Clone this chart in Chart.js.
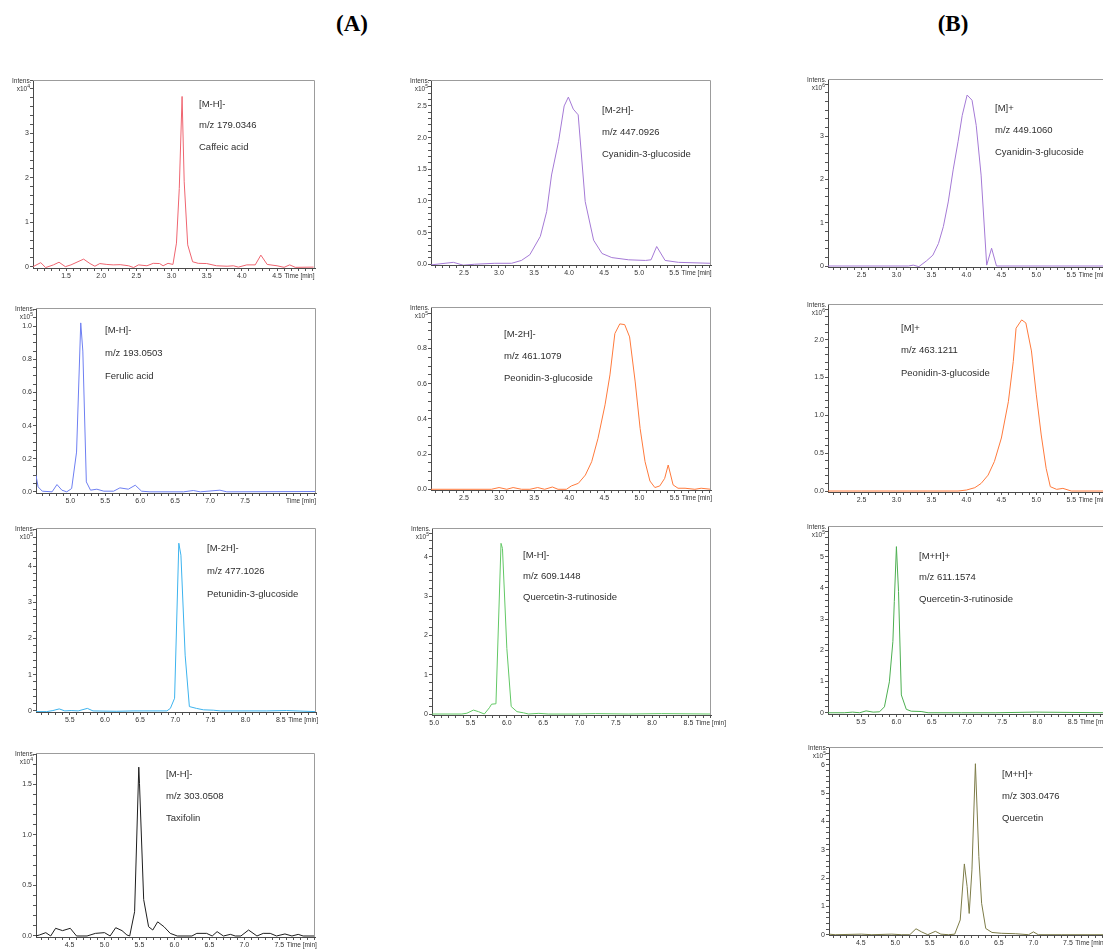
<!DOCTYPE html>
<html>
<head>
<meta charset="utf-8">
<script src="https://cdn.jsdelivr.net/npm/chart.js@4.4.1/dist/chart.umd.min.js"></script>
<style>
  html, body { margin: 0; padding: 0; background: #fff; }
  #page { position: relative; width: 1103px; height: 949px; overflow: hidden; background: #fff; }
  .title { position: absolute; top: 11px; width: 80px; text-align: center;
           font: bold 23px "Liberation Serif", "Times New Roman", serif; color: #000; }
  .panel { position: absolute; }
  .panel canvas { display: block; }
</style>
</head>
<body>
<div id="page">
  <div class="title" style="left:312px">(A)</div>
  <div class="title" style="left:913px">(B)</div>
</div>
<script>
// ---- Extracted ion chromatograms: retention time (min) and intensity (scaled by 10^exp) ----
const caffeicTime = [1.03,1.14,1.21,1.32,1.40,1.49,1.57,1.75,1.84,1.91,1.98,2.08,2.17,2.27,2.39,2.46,2.53,2.65,2.74,2.83,2.88,2.95,3.02,3.07,3.11,3.15,3.18,3.23,3.30,3.38,3.50,3.64,3.79,3.88,3.95,4.07,4.19,4.27,4.36,4.50,4.60,4.68,4.76,5.02];
const caffeicIntensity = [0,0.09,-0.02,0.04,0.10,0,0.04,0.17,0.07,0.01,0.07,0.05,0.04,0.045,0.02,-0.02,0.04,0.02,0.075,0.07,0.02,0.075,0.05,0.53,1.76,3.83,1.91,0.49,0.11,0.075,0.07,0.02,0.01,0.02,-0.01,0.04,0.04,0.26,0.05,0.02,-0.015,0.04,-0.015,-0.01];

const cyanidinNegTime = [2.03,2.35,2.49,2.65,2.94,3.18,3.32,3.44,3.59,3.68,3.75,3.85,3.93,3.99,4.06,4.13,4.23,4.35,4.47,4.61,4.85,5.09,5.17,5.25,5.37,5.56,6.02];
const cyanidinNegIntensity = [-0.01,0.03,-0.015,0,0.015,0.015,0.06,0.15,0.44,0.83,1.41,1.94,2.5,2.64,2.45,2.36,0.99,0.38,0.17,0.105,0.07,0.06,0.07,0.28,0.06,0.03,0.015];

const cyanidinPosTime = [2.02,3.17,3.24,3.32,3.43,3.52,3.60,3.67,3.74,3.81,3.88,3.94,4.01,4.08,4.14,4.21,4.29,4.36,4.43,6.02];
const cyanidinPosIntensity = [0,0,0.02,-0.015,0.12,0.25,0.52,0.91,1.48,2.22,2.87,3.48,3.95,3.83,3.25,2.1,0.02,0.41,0,0];

const ferulicTime = [4.51,4.54,4.60,4.74,4.81,4.88,4.95,5.02,5.09,5.15,5.18,5.23,5.29,5.38,5.48,5.62,5.71,5.83,5.93,6.02,6.14,6.62,6.76,6.86,7.14,7.24,8.51];
const ferulicIntensity = [0.10,0.03,0.004,0,0.044,0.01,0,0.02,0.24,1.02,0.85,0.06,0.01,0.016,0.004,0.004,0.024,0.016,0.04,0.004,0,0,0.008,0,0.01,0,0.002];

const peonidinNegTime = [2.03,2.89,3.0,3.11,3.2,3.32,3.44,3.55,3.65,3.76,3.84,3.96,4.03,4.13,4.23,4.32,4.41,4.51,4.58,4.65,4.72,4.79,4.86,4.94,5.01,5.08,5.15,5.22,5.29,5.36,5.41,5.48,5.55,5.65,5.79,5.88,6.02];
const peonidinNegIntensity = [0,0,0.01,0,0.01,0,0,0.01,0,0.013,0,0,0.019,0.034,0.081,0.157,0.29,0.48,0.65,0.885,0.94,0.936,0.866,0.61,0.346,0.157,0.047,0.01,0.019,0.062,0.138,0.025,0.006,0.006,0,0.006,0];

const peonidinPosTime = [2.02,2.5,2.98,3.45,3.88,4.0,4.12,4.21,4.31,4.4,4.5,4.6,4.67,4.71,4.79,4.85,4.93,5.0,5.07,5.14,5.2,5.29,5.38,5.5,6.02];
const peonidinPosIntensity = [0,0,0,0,0,0.013,0.044,0.1,0.21,0.39,0.7,1.18,1.71,2.15,2.26,2.22,1.85,1.27,0.74,0.3,0.057,0.022,0.035,0,0];

const petunidinTime = [5.02,5.17,5.26,5.35,5.43,5.52,5.62,5.75,5.83,6.16,6.4,6.88,6.93,6.99,7.05,7.08,7.14,7.2,7.3,7.4,7.54,7.64,8.3,8.58,9.0];
const petunidinIntensity = [-0.02,-0.02,0.01,0.055,0,0.01,0,0.07,0,-0.01,0,0,0.07,0.35,4.63,4.3,1.54,0.12,0.07,0.03,0.02,0,0,0.01,-0.02];

const rutinNegTime = [4.97,5.38,5.45,5.54,5.61,5.69,5.76,5.79,5.85,5.92,5.94,6.0,6.06,6.14,6.23,6.3,6.44,6.57,6.94,7.22,7.67,8.13,8.81];
const rutinNegIntensity = [0,0,0.02,0.1,0.06,0,0.16,0.25,0.26,4.34,4.21,1.67,0.19,0.06,0.03,0,0.017,0,0,0.01,0,0.01,0];

const rutinPosTime = [5.03,5.26,5.38,5.48,5.57,5.67,5.76,5.83,5.9,5.95,5.97,6.0,6.03,6.07,6.14,6.21,6.35,6.45,6.92,7.4,7.97,9.0];
const rutinPosIntensity = [0,0,0.02,0,0.06,0.02,0.03,0.19,0.99,2.28,3.56,5.32,3.88,0.57,0.11,0.05,0.04,0,0,0,0.02,0];

const taxifolinTime = [4.02,4.07,4.16,4.23,4.3,4.4,4.51,4.6,4.75,4.87,5.0,5.08,5.16,5.25,5.32,5.36,5.43,5.49,5.5,5.56,5.63,5.69,5.76,5.85,5.94,6.04,6.25,6.32,6.46,6.54,6.61,6.7,6.8,6.87,6.95,7.06,7.18,7.27,7.37,7.46,7.58,7.68,7.77,7.84,8.01];
const taxifolinIntensity = [0,0.01,0.033,0,0.076,0.053,0.076,0,0,0.026,0.033,0,0.082,0.053,0.01,0,0.24,1.67,1.51,0.36,0.092,0.059,0.14,0.092,0.026,0,0,0.026,0.026,0,0.043,0,0.016,0,0,0.059,0,0.026,0.026,0,0.02,0,0.016,0,0];

const quercetinTime = [4.04,4.13,4.51,4.66,4.95,5.09,5.21,5.3,5.38,5.47,5.58,5.66,5.77,5.86,5.94,6.0,6.04,6.07,6.11,6.16,6.21,6.25,6.31,6.4,6.54,6.74,6.93,7.0,7.07,7.41,8.08];
const quercetinIntensity = [0.02,0,0.02,0,0.02,0,0,0.21,0.1,0,0.12,0.02,0,0.02,0.52,2.5,1.7,0.75,2.29,6.04,2.76,1.11,0.22,0.08,0.05,0.035,0,0.1,0,0,0];

// ---- Tick labels ----
const caffeicXTicks = ['1.5','2.0','2.5','3.0','3.5','4.0','4.5'];
const anthocyaninXTicks = ['2.5','3.0','3.5','4.0','4.5','5.0','5.5'];
const ferulicXTicks = ['5.0','5.5','6.0','6.5','7.0','7.5'];
const petunidinXTicks = ['5.5','6.0','6.5','7.0','7.5','8.0','8.5'];
const rutinNegXTicks = ['5.0','5.5','6.0','6.5','7.0','7.5','8.0','8.5'];
const flavonolXTicks = ['4.5','5.0','5.5','6.0','6.5','7.0','7.5'];

const intY0to3 = ['0','1','2','3'];
const intY0to4 = ['0','1','2','3','4'];
const intY0to5 = ['0','1','2','3','4','5'];
const intY0to6 = ['0','1','2','3','4','5','6'];
const cyanidinNegYTicks = ['0.0','0.5','1.0','1.5','2.0','2.5'];
const ferulicYTicks = ['0.0','0.2','0.4','0.6','0.8','1.0'];
const peonidinNegYTicks = ['0.0','0.2','0.4','0.6','0.8'];
const peonidinPosYTicks = ['0.0','0.5','1.0','1.5','2.0'];
const taxifolinYTicks = ['0.0','0.5','1.0','1.5'];

// ---- Ion / compound captions ----
const caffeicNotes = ['[M-H]-', 'm/z 179.0346', 'Caffeic acid'];
const cyanidinNegNotes = ['[M-2H]-', 'm/z 447.0926', 'Cyanidin-3-glucoside'];
const cyanidinPosNotes = ['[M]+', 'm/z 449.1060', 'Cyanidin-3-glucoside'];
const ferulicNotes = ['[M-H]-', 'm/z 193.0503', 'Ferulic acid'];
const peonidinNegNotes = ['[M-2H]-', 'm/z 461.1079', 'Peonidin-3-glucoside'];
const peonidinPosNotes = ['[M]+', 'm/z 463.1211', 'Peonidin-3-glucoside'];
const petunidinNotes = ['[M-2H]-', 'm/z 477.1026', 'Petunidin-3-glucoside'];
const rutinNegNotes = ['[M-H]-', 'm/z 609.1448', 'Quercetin-3-rutinoside'];
const rutinPosNotes = ['[M+H]+', 'm/z 611.1574', 'Quercetin-3-rutinoside'];
const taxifolinNotes = ['[M-H]-', 'm/z 303.0508', 'Taxifolin'];
const quercetinNotes = ['[M+H]+', 'm/z 303.0476', 'Quercetin'];

// ---- Panel layout: plot box [left, top, right, bottom] on the page, axis ranges, styles ----
const panels = [
  { t: caffeicTime, v: caffeicIntensity, color: '#ef6570', exp: 4, xt: caffeicXTicks, yt: intY0to3, notes: caffeicNotes,
    box: [33, 80, 315, 268], xr: [1.03, 5.04], yr: [-0.03, 4.2], yStep: 0.2, timeAt: '4.5', note: [166, 24, 21.5] },
  { t: cyanidinNegTime, v: cyanidinNegIntensity, color: '#a57ad6', exp: 5, xt: anthocyaninXTicks, yt: cyanidinNegYTicks, notes: cyanidinNegNotes,
    box: [431, 80, 711, 265], xr: [2.03, 6.025], yr: [-0.012, 2.91], yStep: 0.1, timeAt: '5.5', note: [171, 30, 22] },
  { t: cyanidinPosTime, v: cyanidinPosIntensity, color: '#a57ad6', exp: 6, xt: anthocyaninXTicks, yt: intY0to3, notes: cyanidinPosNotes,
    box: [828, 79, 1108, 267], xr: [2.02, 6.025], yr: [-0.023, 4.32], yStep: 0.2, timeAt: '5.5', note: [167, 29, 22] },
  { t: ferulicTime, v: ferulicIntensity, color: '#6e7ff2', exp: 5, xt: ferulicXTicks, yt: ferulicYTicks, notes: ferulicNotes,
    box: [36, 308, 316, 493], xr: [4.51, 8.515], yr: [-0.007, 1.11], yStep: 0.05, timeAt: '8.0', timeNumber: false, note: [69, 22, 23] },
  { t: peonidinNegTime, v: peonidinNegIntensity, color: '#ff7a3c', exp: 5, xt: anthocyaninXTicks, yt: peonidinNegYTicks, notes: peonidinNegNotes,
    box: [431, 307, 711, 490], xr: [2.03, 6.02], yr: [-0.004, 1.036], yStep: 0.05, timeAt: '5.5', note: [73, 27, 22] },
  { t: peonidinPosTime, v: peonidinPosIntensity, color: '#ff7a3c', exp: 6, xt: anthocyaninXTicks, yt: peonidinPosYTicks, notes: peonidinPosNotes,
    box: [828, 304, 1108, 492], xr: [2.02, 6.025], yr: [-0.013, 2.47], yStep: 0.1, timeAt: '5.5', note: [73, 24, 22.5] },
  { t: petunidinTime, v: petunidinIntensity, color: '#3cb3ee', exp: 5, xt: petunidinXTicks, yt: intY0to4, notes: petunidinNotes,
    box: [36, 528, 316, 712], xr: [5.02, 9.0], yr: [-0.03, 5.05], yStep: 0.2, timeAt: '8.5', note: [171, 20, 23] },
  { t: rutinNegTime, v: rutinNegIntensity, color: '#62c865', exp: 5, xt: rutinNegXTicks, yt: intY0to4, notes: rutinNegNotes,
    box: [432, 528, 711, 715], xr: [4.97, 8.81], yr: [-0.025, 4.73], yStep: 0.2, timeAt: '8.5', note: [91, 27, 21] },
  { t: rutinPosTime, v: rutinPosIntensity, color: '#4caf50', exp: 5, xt: petunidinXTicks, yt: intY0to5, notes: rutinPosNotes,
    box: [828, 526, 1108, 714], xr: [5.03, 9.0], yr: [-0.04, 5.98], yStep: 0.2, timeAt: '8.5', note: [91, 30, 21.5] },
  { t: taxifolinTime, v: taxifolinIntensity, color: '#1e1e1e', exp: 4, xt: flavonolXTicks, yt: taxifolinYTicks, notes: taxifolinNotes,
    box: [36, 753, 315, 937], xr: [4.02, 8.01], yr: [-0.01, 1.81], yStep: 0.1, timeAt: '7.5', note: [130, 21, 22] },
  { t: quercetinTime, v: quercetinIntensity, color: '#7d7c48', exp: 5, xt: flavonolXTicks, yt: intY0to6, notes: quercetinNotes,
    box: [829, 747, 1108, 935], xr: [4.04, 8.08], yr: [-0.01, 6.63], yStep: 0.2, timeAt: '7.5', note: [173, 27, 22] }
];

const PAD_L = 40, PAD_T = 14, PAD_R = 16, PAD_B = 18;
const SANS = '"Liberation Sans", Arial, Helvetica, sans-serif';
const TICK_SIZE = 7;

function labelFrom(list) {
  return function (value) {
    const hit = list.find(s => Math.abs(parseFloat(s) - value) < 1e-6);
    return hit === undefined ? '' : hit;
  };
}

// Frame, intensity unit, time caption and compound captions
function decorations(p) {
  return {
    id: 'decorations',
    afterDraw(chart) {
      const ctx = chart.ctx, a = chart.chartArea;
      ctx.save();
      ctx.strokeStyle = '#9c9c9c';
      ctx.lineWidth = 1;
      ctx.beginPath();
      ctx.moveTo(a.left, a.top + 0.5);
      ctx.lineTo(a.right - 0.5, a.top + 0.5);
      ctx.lineTo(a.right - 0.5, a.bottom);
      ctx.stroke();

      ctx.fillStyle = '#333';
      ctx.textAlign = 'right';
      ctx.textBaseline = 'middle';
      ctx.font = '6.5px ' + SANS;
      ctx.fillText('Intens.', a.left - 1.5, a.top + 1.5);
      ctx.font = '5px ' + SANS;
      const sup = String(p.exp);
      const supW = ctx.measureText(sup).width;
      ctx.fillText(sup, a.left - 3, a.top + 7);
      ctx.font = '6.5px ' + SANS;
      ctx.fillText('x10', a.left - 3 - supW, a.top + 9.5);

      const xs = chart.scales.x;
      const px = xs.getPixelForValue(parseFloat(p.timeAt));
      ctx.font = TICK_SIZE + 'px ' + SANS;
      const start = p.timeNumber === false ? px + 6 : px + ctx.measureText(p.timeAt).width / 2 + 2.5;
      ctx.font = '6.5px ' + SANS;
      ctx.textAlign = 'left';
      ctx.fillText('Time [min]', start, a.bottom + 8.2);

      ctx.font = '9.5px ' + SANS;
      ctx.fillStyle = '#2e2e2e';
      p.notes.forEach((s, i) => ctx.fillText(s, a.left + p.note[0], a.top + p.note[1] + i * p.note[2]));
      ctx.restore();
    }
  };
}

const page = document.getElementById('page');
panels.forEach(p => {
  const [L, T, R, B] = p.box;
  const w = (R - L) + PAD_L + PAD_R;
  const h = (B - T) + PAD_T + PAD_B;
  const holder = document.createElement('div');
  holder.className = 'panel';
  holder.style.left = (L - PAD_L) + 'px';
  holder.style.top = (T - PAD_T) + 'px';
  const canvas = document.createElement('canvas');
  canvas.width = w; canvas.height = h;
  canvas.style.width = w + 'px'; canvas.style.height = h + 'px';
  holder.appendChild(canvas);
  page.appendChild(holder);

  const axisCommon = {
    type: 'linear',
    border: { color: '#4a4a4a', width: 1 },
    grid: { display: true, drawOnChartArea: false, drawTicks: true, tickLength: 3, color: '#555', lineWidth: 1 }
  };

  new Chart(canvas, {
    type: 'line',
    data: {
      datasets: [{
        data: p.t.map((t, i) => ({ x: t, y: p.v[i] })),
        borderColor: p.color,
        borderWidth: 1,
        pointRadius: 0,
        tension: 0,
        fill: false
      }]
    },
    options: {
      responsive: false,
      animation: false,
      events: [],
      layout: { padding: { left: 0, top: PAD_T, right: PAD_R, bottom: 0 } },
      plugins: { legend: { display: false }, tooltip: { enabled: false } },
      scales: {
        x: Object.assign({}, axisCommon, {
          min: p.xr[0], max: p.xr[1],
          afterFit(s) { s.height = PAD_B; },
          ticks: { stepSize: 0.1, autoSkip: false, maxRotation: 0, minRotation: 0, includeBounds: false,
                   padding: 1, color: '#333', font: { family: SANS, size: TICK_SIZE }, callback: labelFrom(p.xt) }
        }),
        y: Object.assign({}, axisCommon, {
          min: p.yr[0], max: p.yr[1],
          afterFit(s) { s.width = PAD_L; },
          ticks: { stepSize: p.yStep, autoSkip: false, includeBounds: false,
                   padding: 1, color: '#333', font: { family: SANS, size: TICK_SIZE }, callback: labelFrom(p.yt) }
        })
      }
    },
    plugins: [decorations(p)]
  });
});
</script>
</body>
</html>
